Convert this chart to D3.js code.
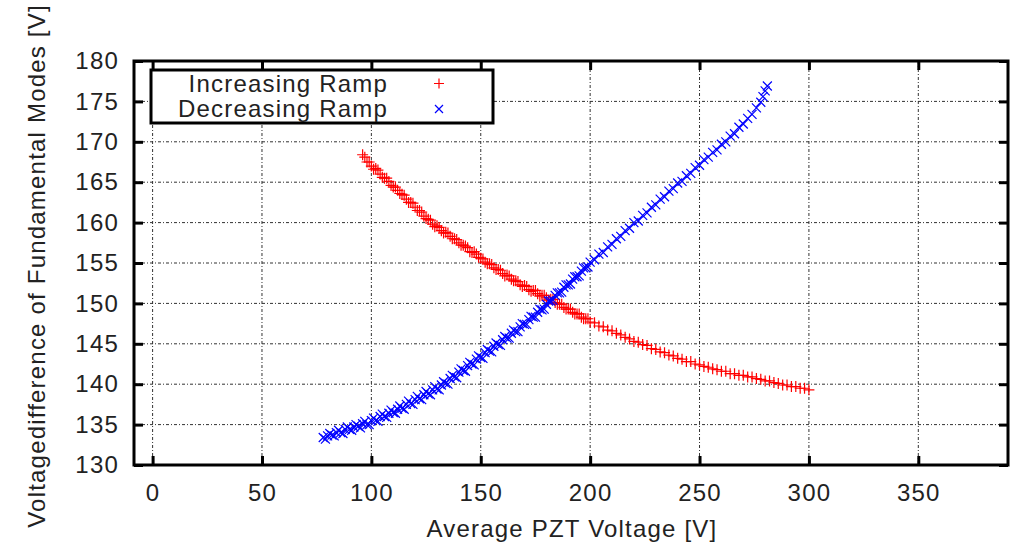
<!DOCTYPE html>
<html>
<head>
<meta charset="utf-8">
<script src="https://cdn.jsdelivr.net/npm/d3@7"></script>
<style>
  body { margin: 0; background: #fff; }
  text { font-family: "Liberation Sans", Arial, sans-serif; fill: #222; letter-spacing: 1.2px; }
</style>
</head>
<body>
<svg id="chart"></svg>
<script>
const seriesNames = ["Increasing Ramp", "Decreasing Ramp"]
const xTicks = [0, 50, 100, 150, 200, 250, 300, 350]
const yTicks = [130, 135, 140, 145, 150, 155, 160, 165, 170, 175, 180]

// Increasing ramp (red +)
const incX = [96, 97, 98, 100, 102, 104, 106, 108, 110, 112, 114, 116, 118, 120, 122, 124, 126, 128, 130, 132,
  134, 136, 138, 140, 142, 144, 146, 148, 150, 152, 154, 156, 158, 160, 162, 164, 166, 168, 170, 172,
  174, 176, 178, 180, 182, 184, 186, 188, 190, 192, 194, 196, 198, 200, 202, 204, 206, 208, 210, 212,
  214, 216, 218, 220, 222, 224, 226, 228, 230, 232, 234, 236, 238, 240, 242, 244, 246, 248, 250, 252,
  254, 256, 258, 260, 262, 264, 266, 268, 270, 272, 274, 276, 278, 280, 282, 284, 286, 288, 290, 292,
  294, 296, 298, 300,
  99, 101, 103, 105, 107, 109, 111, 113, 115, 117, 119, 121, 123, 125, 127, 129, 131, 133, 135, 137,
  139, 141, 143, 145, 147, 149, 151, 153, 155, 157, 159, 161, 163, 165, 167, 169, 171, 173, 175, 177,
  179, 181, 183, 185, 187, 189, 191, 193, 195, 197, 199]
const incY = [168.4, 168.1, 167.5, 167.0, 166.7, 166.0, 165.5, 165.1, 164.4, 164.0, 163.5, 162.9, 162.5, 161.9, 161.5, 160.8, 160.4, 159.8, 159.6, 159.0,
  158.8, 158.3, 158.0, 157.5, 157.2, 156.9, 156.3, 156.1, 155.6, 155.1, 154.9, 154.4, 154.2, 153.7, 153.5, 153.0, 152.8, 152.3, 152.2, 151.7,
  151.6, 151.2, 151.0, 150.7, 150.5, 150.1, 149.9, 149.5, 149.3, 148.9, 148.7, 148.3, 148.1, 147.7, 147.6, 147.2, 147.1, 146.7, 146.6, 146.3,
  146.1, 145.8, 145.6, 145.3, 145.2, 144.9, 144.8, 144.4, 144.3, 144.0, 143.9, 143.6, 143.5, 143.2, 143.1, 142.8, 142.8, 142.5, 142.4, 142.2,
  142.1, 141.9, 141.8, 141.6, 141.6, 141.3, 141.3, 141.1, 141.1, 140.9, 140.9, 140.7, 140.6, 140.4, 140.4, 140.2, 140.1, 139.9, 139.9, 139.7,
  139.7, 139.5, 139.5, 139.3,
  167.5, 166.6, 166.5, 165.6, 165.5, 164.6, 164.4, 163.6, 163.4, 162.5, 162.4, 161.5, 161.3, 160.5, 160.3, 159.5, 159.4, 158.7, 158.7, 158.0,
  157.9, 157.2, 157.1, 156.4, 156.4, 155.7, 155.5, 154.9, 154.8, 154.2, 154.1, 153.4, 153.4, 152.8, 152.7, 152.1, 152.1, 151.5, 151.6, 150.9,
  151.0, 150.4, 150.5, 149.9, 149.9, 149.3, 149.3, 148.7, 148.7, 148.1, 148.1]

// Decreasing ramp (blue x)
const decX = [78, 79, 80, 82, 84, 86, 88, 90, 92, 94, 96, 98, 100, 102, 104, 106, 108, 110, 112, 114,
  116, 118, 120, 122, 124, 126, 128, 130, 132, 134, 136, 138, 140, 142, 144, 146, 148, 150, 152, 154,
  156, 158, 160, 162, 164, 166, 168, 170, 172, 174, 176, 178, 180, 182, 184, 186, 188, 190, 192, 194,
  196, 198, 200, 202, 204, 206, 208, 210, 212, 214, 216, 218, 220, 222, 224, 226, 228, 230, 232, 234,
  236, 238, 240, 242, 244, 246, 248, 250, 252, 254, 256, 258, 260, 262, 264, 266, 268, 270, 272, 274,
  276, 278, 279, 280, 281,
  81, 83, 85, 87, 89, 91, 93, 95, 97, 99, 101, 103, 105, 107, 109, 111, 113, 115, 117, 119,
  121, 123, 125, 127, 129, 131, 133, 135, 137, 139, 141, 143, 145, 147, 149, 151, 153, 155, 157, 159,
  161, 163, 165, 167, 169, 171, 173, 175, 177, 179, 181, 183, 185, 187, 189, 191, 193, 195, 197, 199]
const decY = [133.4, 133.2, 133.6, 133.7, 134.0, 134.0, 134.4, 134.4, 134.7, 134.8, 135.1, 135.0, 135.5, 135.5, 136.0, 136.0, 136.4, 136.5, 136.9, 137.0,
  137.5, 137.6, 138.1, 138.2, 138.7, 138.8, 139.3, 139.4, 139.9, 140.1, 140.7, 140.9, 141.5, 141.7, 142.3, 142.5, 143.1, 143.3, 143.9, 144.1,
  144.7, 144.9, 145.5, 145.7, 146.3, 146.5, 147.1, 147.4, 148.0, 148.3, 148.9, 149.2, 149.9, 150.3, 151.0, 151.3, 152.0, 152.3, 153.0, 153.3,
  154.0, 154.4, 155.1, 155.4, 156.1, 156.3, 157.0, 157.3, 158.0, 158.3, 159.0, 159.3, 160.0, 160.2, 160.9, 161.2, 161.9, 162.2, 162.9, 163.2,
  163.9, 164.2, 164.9, 165.1, 165.8, 166.1, 166.8, 167.1, 167.8, 168.1, 168.7, 169.0, 169.7, 170.0, 170.7, 171.0, 171.8, 172.2, 172.9, 173.4,
  174.2, 174.9, 175.6, 176.3, 176.9,
  133.9, 133.6, 134.3, 133.9, 134.7, 134.3, 135.0, 134.6, 135.4, 135.0, 135.8, 135.4, 136.3, 135.9, 136.8, 136.4, 137.3, 136.9, 137.9, 137.5,
  138.5, 138.1, 139.1, 138.7, 139.7, 139.3, 140.3, 140.0, 141.1, 140.8, 141.9, 141.6, 142.7, 142.4, 143.5, 143.2, 144.3, 144.0, 145.1, 144.8,
  145.9, 145.7, 146.7, 146.5, 147.5, 147.4, 148.4, 148.3, 149.3, 149.3, 150.3, 150.4, 151.3, 151.4, 152.3, 152.4, 153.3, 153.4, 154.4, 154.5]

class ScatterChart {

  constructor(_config) {
    this.config = {
      parentElement: _config.parentElement,
      containerWidth: _config.containerWidth || 1012,
      containerHeight: _config.containerHeight || 547,
      margin: { top: 61, right: 4, bottom: 82, left: 134 }
    }
    this.initVis()
  }

  initVis() {
    let vis = this
    const m = vis.config.margin

    vis.width = vis.config.containerWidth - m.left - m.right
    vis.height = vis.config.containerHeight - m.top - m.bottom

    vis.svg = d3.select(vis.config.parentElement)
      .attr('width', vis.config.containerWidth)
      .attr('height', vis.config.containerHeight)

    vis.chart = vis.svg.append('g')
      .attr('transform', `translate(${m.left}, ${m.top})`)

    vis.xScale = d3.scaleLinear().domain([-8.5, 391]).range([0, vis.width])
    vis.yScale = d3.scaleLinear().domain([130, 180]).range([vis.height, 0])

    vis.renderVis()
  }

  renderVis() {
    let vis = this
    const x = vis.xScale, y = vis.yScale
    const W = vis.width, H = vis.height

    // grid
    const grid = vis.chart.append('g')
      .attr('stroke', '#333')
      .attr('stroke-width', 1)
      .attr('stroke-dasharray', '3,2,1,2')
    grid.selectAll('.gx')
      .data(xTicks)
      .join('line')
        .attr('x1', d => x(d)).attr('x2', d => x(d))
        .attr('y1', 0).attr('y2', H)
    grid.selectAll('.gy')
      .data(yTicks.slice(1, -1))
      .join('line')
        .attr('y1', d => y(d)).attr('y2', d => y(d))
        .attr('x1', 0).attr('x2', W)

    // axes with inward ticks on all four sides
    const tickLen = 9
    vis.chart.append('g')
      .attr('transform', `translate(0, ${H})`)
      .call(d3.axisBottom(x).tickValues(xTicks).tickSize(-tickLen).tickPadding(19))
      .call(g => g.select('.domain').remove())
    vis.chart.append('g')
      .call(d3.axisTop(x).tickValues(xTicks).tickSize(-tickLen).tickFormat(''))
      .call(g => g.select('.domain').remove())
    vis.chart.append('g')
      .call(d3.axisLeft(y).tickValues(yTicks).tickSize(-tickLen).tickPadding(15))
      .call(g => g.select('.domain').remove())
    vis.chart.append('g')
      .attr('transform', `translate(${W}, 0)`)
      .call(d3.axisRight(y).tickValues(yTicks).tickSize(-tickLen).tickFormat(''))
      .call(g => g.select('.domain').remove())

    vis.chart.selectAll('.tick line')
      .attr('stroke', '#000')
      .attr('stroke-width', 3)
    vis.chart.selectAll('.tick text')
      .attr('font-size', 24)
      .attr('font-family', '"Liberation Sans", Arial, sans-serif')
      .attr('fill', '#222')

    // data
    const incData = incX.map((d, i) => [d, incY[i]])
    const decData = decX.map((d, i) => [d, decY[i]])

    vis.chart.append('g')
      .selectAll('path')
      .data(incData)
      .join('path')
        .attr('transform', d => `translate(${x(d[0])}, ${y(d[1])})`)
        .attr('d', 'M-5.5,0H5.5M0,-5.5V5.5')
        .attr('stroke', '#ff0000')
        .attr('stroke-width', 1.2)
        .attr('fill', 'none')

    vis.chart.append('g')
      .selectAll('path')
      .data(decData)
      .join('path')
        .attr('transform', d => `translate(${x(d[0])}, ${y(d[1])})`)
        .attr('d', 'M-4.5,-4.5L4.5,4.5M-4.5,4.5L4.5,-4.5')
        .attr('stroke', '#0000ff')
        .attr('stroke-width', 1.2)
        .attr('fill', 'none')

    // frame
    vis.chart.append('rect')
      .attr('width', W).attr('height', H)
      .attr('fill', 'none')
      .attr('stroke', '#000')
      .attr('stroke-width', 3)

    // legend
    const leg = vis.svg.append('g')
    leg.append('rect')
      .attr('x', 151).attr('y', 70)
      .attr('width', 342).attr('height', 53)
      .attr('fill', '#fff')
      .attr('stroke', '#000')
      .attr('stroke-width', 3)
    leg.selectAll('text')
      .data(seriesNames)
      .join('text')
        .attr('x', 388)
        .attr('y', (d, i) => 91.5 + i * 25)
        .attr('text-anchor', 'end')
        .attr('font-size', 24)
        .text(d => d)
    leg.append('path')
      .attr('transform', 'translate(439, 83.5)')
      .attr('d', 'M-5,0H5M0,-5V5')
      .attr('stroke', '#ff0000').attr('stroke-width', 1.2)
    leg.append('path')
      .attr('transform', 'translate(439, 109)')
      .attr('d', 'M-4,-4L4,4M-4,4L4,-4')
      .attr('stroke', '#0000ff').attr('stroke-width', 1.2)

    // axis titles
    vis.svg.append('text')
      .attr('x', 572).attr('y', 537)
      .attr('text-anchor', 'middle')
      .attr('font-size', 24)
      .text('Average PZT Voltage [V]')
    vis.svg.append('text')
      .attr('transform', 'translate(45, 266) rotate(-90)')
      .attr('text-anchor', 'middle')
      .attr('font-size', 24)
      .text('Voltagedifference of Fundamental Modes [V]')
  }
}

new ScatterChart({ parentElement: '#chart' })
</script>
</body>
</html>
